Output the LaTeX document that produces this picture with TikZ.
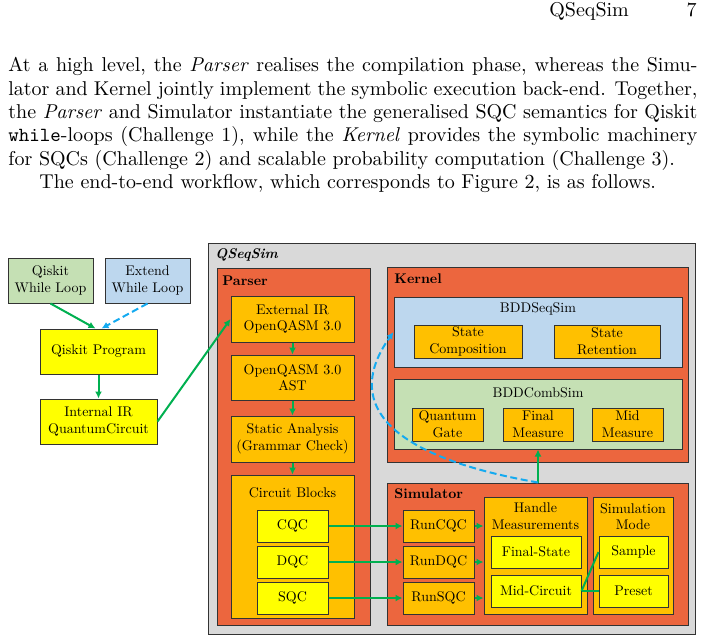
\documentclass[tikz,border=0pt]{standalone}
\usepackage{fontspec}
\usetikzlibrary{arrows.meta}
\newfontfamily\figfont{lmroman10}[Extension = .otf, UprightFont = *-regular, BoldFont = *-bold,
    ItalicFont = *-italic, BoldItalicFont = *-bolditalic]
\newcommand{\figtext}{\figfont\fontsize{7pt}{8.3pt}\selectfont}
\definecolor{qgray}{RGB}{217,217,217}
\definecolor{qred}{RGB}{236,102,62}
\definecolor{qorange}{RGB}{255,192,0}
\definecolor{qyellow}{RGB}{255,255,0}
\definecolor{qblue}{RGB}{189,215,238}
\definecolor{qgreen}{RGB}{197,224,180}
\definecolor{qarrow}{RGB}{0,176,80}
\definecolor{qcyan}{RGB}{20,170,240}
\begin{document}
\begin{tikzpicture}[x = 0.5pt, y = -0.5pt,
    box/.style = {draw = black!80, line width = 0.5pt, inner sep = 0pt, align = center, font = \figtext},
    boxtitle/.style = {anchor = west, inner sep = 0pt, font = \figtext\bfseries},
    boxnote/.style = {inner sep = 0pt, align = center, font = \figtext},
    flow/.style = {draw = qarrow, line width = 1pt, -{Latex[length = 3.5pt, width = 3.5pt]}},
    flowdash/.style = {flow, draw = qcyan, dash pattern = on 3.5pt off 1.8pt},
    link/.style = {draw = qarrow, line width = 1pt}]
    \useasboundingbox (0, 0) rectangle (704, 641);
    % page text
    \node [anchor = base west, inner sep = 0pt] (hdr) at (549, 17) {QSeqSim};
    \node [anchor = base east, inner sep = 0pt] (pageno) at (697, 17) {7};
    \node [anchor = north west, inner sep = 0pt, text width = 344.5pt, align = justify,
        font = \fontsize{10pt}{11.7pt}\selectfont] (para) at (8, 57)
        {At a high level, the \emph{Parser} realises the compilation phase, whereas the Simu-\linebreak
        lator and Kernel jointly implement the symbolic execution back-end. Together,\linebreak
        the \emph{Parser} and Simulator instantiate the generalised SQC semantics for Qiskit\linebreak
        \texttt{while}-loops (Challenge 1), while the \emph{Kernel} provides the symbolic machinery\linebreak
        for SQCs (Challenge 2) and scalable probability computation (Challenge 3).\par
        \hspace*{15.5pt}The end-to-end workflow, which corresponds to Figure 2, is as follows.};
    % front end
    \node [box, fill = qgreen, minimum width = 42.5pt, minimum height = 22.5pt] (qwl) at (50.5, 280.5) {Qiskit\\While Loop};
    \node [box, fill = qblue, minimum width = 42.5pt, minimum height = 22.5pt] (ewl) at (147.5, 280.5) {Extend\\While Loop};
    \node [box, fill = qyellow, minimum width = 58.5pt, minimum height = 22.5pt] (qp) at (98.5, 351.5) {Qiskit Program};
    \node [box, fill = qyellow, minimum width = 58.5pt, minimum height = 22.5pt] (iir) at (98.5, 421.5) {Internal IR\\QuantumCircuit};
    % QSeqSim
    \node [box, fill = qgray, minimum width = 243.5pt, minimum height = 195.5pt] (qss) at (451.5, 438.5) {};
    \node [boxtitle, font = \figtext\bfseries\itshape] (qsstitle) at (215, 255) {QSeqSim};
    % parser
    \node [box, fill = qred, minimum width = 76.5pt, minimum height = 178.5pt] (parser) at (293.5, 446.5) {};
    \node [boxtitle] (parsertitle) at (222, 281) {Parser};
    \node [box, fill = qorange, minimum width = 61.5pt, minimum height = 23pt] (eir) at (292.5, 319) {External IR\\OpenQASM 3.0};
    \node [box, fill = qorange, minimum width = 61.5pt, minimum height = 22.5pt] (ast) at (292.5, 377.5) {OpenQASM 3.0\\AST};
    \node [box, fill = qorange, minimum width = 61.5pt, minimum height = 23pt] (sa) at (292.5, 439) {Static Analysis\\(Grammar Check)};
    \node [box, fill = qorange, minimum width = 61.5pt, minimum height = 71.5pt] (cb) at (292.5, 546.5) {};
    \node [boxnote] (cbtitle) at (292.5, 493) {Circuit Blocks};
    \node [box, fill = qyellow, minimum width = 35.5pt, minimum height = 16pt] (cqc) at (292.5, 526) {CQC};
    \node [box, fill = qyellow, minimum width = 35.5pt, minimum height = 16pt] (dqc) at (292.5, 562) {DQC};
    \node [box, fill = qyellow, minimum width = 35.5pt, minimum height = 16pt] (sqc) at (292.5, 598) {SQC};
    % kernel
    \node [box, fill = qred, minimum width = 150.5pt, minimum height = 97.5pt] (kernel) at (537.5, 364.5) {};
    \node [boxtitle] (kerneltitle) at (394, 279) {Kernel};
    \node [box, fill = qblue, minimum width = 144pt, minimum height = 35pt] (bdds) at (538, 332) {};
    \node [boxnote] (bddstitle) at (538, 309) {BDDSeqSim};
    \node [box, fill = qorange, minimum width = 54pt, minimum height = 16.5pt] (sc) at (468, 341.5) {State\\Composition};
    \node [box, fill = qorange, minimum width = 53pt, minimum height = 16.5pt] (sr) at (607, 341.5) {State\\Retention};
    \node [box, fill = qgreen, minimum width = 144pt, minimum height = 35pt] (bddc) at (538, 414) {};
    \node [boxnote] (bddctitle) at (538, 393) {BDDCombSim};
    \node [box, fill = qorange, minimum width = 35.5pt, minimum height = 16.5pt] (qg) at (447.5, 424.5) {Quantum\\Gate};
    \node [box, fill = qorange, minimum width = 35pt, minimum height = 16.5pt] (fm) at (538, 424.5) {Final\\Measure};
    \node [box, fill = qorange, minimum width = 35.5pt, minimum height = 16.5pt] (mm) at (627.5, 424.5) {Mid\\Measure};
    % simulator
    \node [box, fill = qred, minimum width = 150.5pt, minimum height = 71pt] (sim) at (537.5, 554) {};
    \node [boxtitle] (simtitle) at (394, 494) {Simulator};
    \node [box, fill = qorange, minimum width = 35.5pt, minimum height = 16pt] (rcqc) at (438.5, 526) {RunCQC};
    \node [box, fill = qorange, minimum width = 35.5pt, minimum height = 16pt] (rdqc) at (438.5, 562) {RunDQC};
    \node [box, fill = qorange, minimum width = 35.5pt, minimum height = 16pt] (rsqc) at (438.5, 598) {RunSQC};
    \node [box, fill = qorange, minimum width = 51.5pt, minimum height = 58.5pt] (hm) at (535.5, 555.5) {};
    \node [boxnote] (hmtitle) at (535.5, 516.5) {Handle\\Measurements};
    \node [box, fill = qyellow, minimum width = 45pt, minimum height = 16pt] (fs) at (536, 552) {Final-State};
    \node [box, fill = qyellow, minimum width = 45pt, minimum height = 16pt] (mc) at (536, 591) {Mid-Circuit};
    \node [box, fill = qorange, minimum width = 40pt, minimum height = 58.5pt] (smode) at (633, 555.5) {};
    \node [boxnote] (smodetitle) at (633, 516.5) {Simulation\\Mode};
    \node [box, fill = qyellow, minimum width = 34.5pt, minimum height = 16pt] (samp) at (633.5, 552) {Sample};
    \node [box, fill = qyellow, minimum width = 34.5pt, minimum height = 16pt] (pre) at (633.5, 591) {Preset};
    % connectors
    \draw [flow] (qwl.south) -- ([xshift = -1.5pt]qp.north);
    \draw [flowdash] (ewl.south) -- ([xshift = 1.5pt]qp.north);
    \draw [flow] (qp) -- (iir);
    \draw [flow] (iir.east) -- (eir.west);
    \draw [flow] (eir) -- (ast);
    \draw [flow] (ast) -- (sa);
    \draw [flow] (sa) -- (cb);
    \draw [flow] (cqc) -- (rcqc);
    \draw [flow] (dqc) -- (rdqc);
    \draw [flow] (sqc) -- (rsqc);
    \draw [flow] (rcqc.east) -- (rcqc.east -| hm.west);
    \draw [flow] (rdqc.east) -- (rdqc.east -| hm.west);
    \draw [flow] (rsqc.east) -- (rsqc.east -| hm.west);
    \draw [link] (mc.east) -- (samp.west);
    \draw [link] (mc.east) -- (pre.west);
    \coordinate (simtop) at (sim.north -| fm.south);
    \draw [flow] (simtop) -- (fm.south |- bddc.south);
    \draw [flowdash] (simtop) .. controls (380, 455) and (345, 400) .. (bdds.west);
\end{tikzpicture}
\end{document}
